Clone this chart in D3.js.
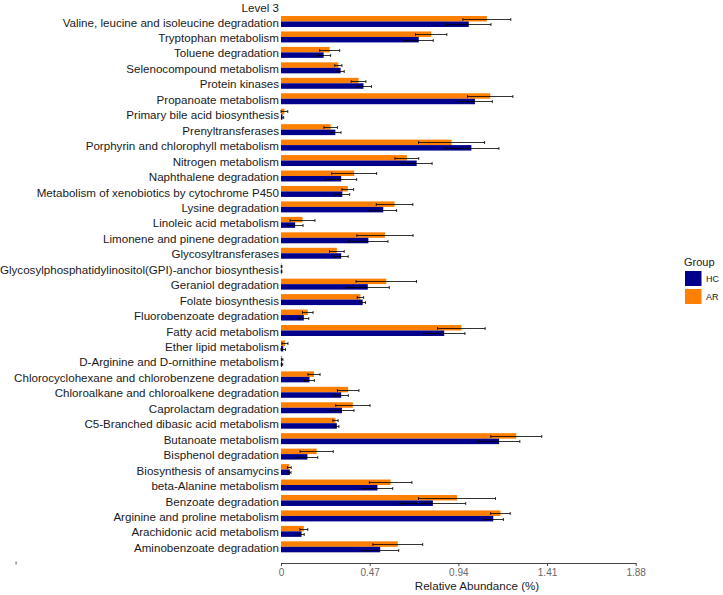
<!DOCTYPE html>
<html><head><meta charset="utf-8">
<script src="https://cdn.jsdelivr.net/npm/d3@7"></script>
<style>html,body{margin:0;padding:0;background:#fff;}svg{display:block;font-family:"Liberation Sans",Arial,sans-serif;}</style>
</head><body><svg id="c" width="723" height="595"></svg>
<script>
const categories = ["Valine, leucine and isoleucine degradation","Tryptophan metabolism","Toluene degradation","Selenocompound metabolism","Protein kinases","Propanoate metabolism","Primary bile acid biosynthesis","Prenyltransferases","Porphyrin and chlorophyll metabolism","Nitrogen metabolism","Naphthalene degradation","Metabolism of xenobiotics by cytochrome P450","Lysine degradation","Linoleic acid metabolism","Limonene and pinene degradation","Glycosyltransferases","Glycosylphosphatidylinositol(GPI)-anchor biosynthesis","Geraniol degradation","Folate biosynthesis","Fluorobenzoate degradation","Fatty acid metabolism","Ether lipid metabolism","D-Arginine and D-ornithine metabolism","Chlorocyclohexane and chlorobenzene degradation","Chloroalkane and chloroalkene degradation","Caprolactam degradation","C5-Branched dibasic acid metabolism","Butanoate metabolism","Bisphenol degradation","Biosynthesis of ansamycins","beta-Alanine metabolism","Benzoate degradation","Arginine and proline metabolism","Arachidonic acid metabolism","Aminobenzoate degradation"];
const groups = ["AR","HC"];
const legendGroups = ["HC","AR"];
const arMean = [1.091,0.796,0.258,0.304,0.411,1.109,0.018,0.263,0.904,0.667,0.388,0.354,0.602,0.114,0.551,0.296,0.003,0.558,0.421,0.142,0.956,0.021,0.006,0.175,0.356,0.381,0.289,1.247,0.189,0.044,0.581,0.933,1.163,0.121,0.619];
const arSd   = [0.127,0.083,0.053,0.019,0.039,0.120,0.018,0.036,0.175,0.063,0.119,0.031,0.097,0.066,0.149,0.039,0.002,0.160,0.017,0.028,0.126,0.016,0.004,0.032,0.057,0.091,0.014,0.135,0.088,0.010,0.113,0.204,0.052,0.021,0.132];
const hcMean = [0.995,0.730,0.226,0.316,0.437,1.028,0.008,0.288,1.009,0.719,0.319,0.325,0.542,0.075,0.463,0.319,0.003,0.460,0.433,0.121,0.865,0.012,0.005,0.151,0.319,0.323,0.296,1.156,0.140,0.047,0.511,0.805,1.125,0.109,0.526];
const hcSd   = [0.118,0.077,0.037,0.019,0.043,0.092,0.006,0.030,0.146,0.082,0.082,0.039,0.071,0.042,0.104,0.037,0.002,0.114,0.015,0.026,0.110,0.012,0.004,0.026,0.038,0.064,0.011,0.110,0.055,0.006,0.081,0.174,0.054,0.014,0.098];
const xTicks = [0,0.47,0.94,1.41,1.88];
const colors = {HC:"#00008B", AR:"#FF8000"};

const rows = [];
categories.forEach((c,i)=>{
  rows.push({cat:c, g:"AR", m:arMean[i], sd:arSd[i]});
  rows.push({cat:c, g:"HC", m:hcMean[i], sd:hcSd[i]});
});

const svg = d3.select("#c");
const x = d3.scaleLinear().domain([0,1.88]).range([281,635.7]);
const y = d3.scaleBand().domain(categories).range([16,552.3]).paddingInner(0.29).paddingOuter(0);
const yg = d3.scaleBand().domain(groups).range([0,y.bandwidth()]);

// bars
svg.append("g").selectAll("rect").data(rows).join("rect")
  .attr("x", x(0))
  .attr("y", d=>y(d.cat)+yg(d.g))
  .attr("width", d=>Math.max(0, x(d.m)-x(0)))
  .attr("height", yg.bandwidth())
  .attr("fill", d=>colors[d.g]);

// error bars
const eb = svg.append("g").attr("stroke","#000").attr("stroke-width",1).attr("stroke-opacity",0.8);
rows.forEach(d=>{
  const cy = Math.round(y(d.cat)+yg(d.g)+yg.bandwidth()/2)+0.5;
  const x1 = x(Math.max(0,d.m-d.sd)), x2 = x(d.m+d.sd);
  eb.append("line").attr("x1",x1).attr("x2",x2).attr("y1",cy).attr("y2",cy);
  eb.append("line").attr("x1",x1).attr("x2",x1).attr("y1",cy-1.5).attr("y2",cy+1.5);
  eb.append("line").attr("x1",x2).attr("x2",x2).attr("y1",cy-1.5).attr("y2",cy+1.5);
});

// category labels
svg.append("g").selectAll("text").data(categories).join("text")
  .attr("x",279).attr("y",d=>y(d)+y.bandwidth()/2+1).attr("dy","0.35em")
  .attr("text-anchor","end").attr("font-size","11.6px").attr("fill","#1a1a1a").text(d=>d);

svg.append("text").attr("x",279).attr("y",11.5).attr("text-anchor","end")
  .attr("font-size","11.6px").attr("fill","#1a1a1a").text("Level 3");

// x axis
const ax = svg.append("g").attr("transform","translate(0,563)")
  .call(d3.axisBottom(x).tickValues(xTicks).tickFormat(d=>d===0?"0":d3.format(".2f")(d)).tickSize(3).tickSizeOuter(0));
ax.select(".domain").attr("stroke","#444");
ax.selectAll(".tick line").attr("stroke","#444");
ax.selectAll(".tick text").attr("fill","#666").attr("font-size","10px").attr("font-family","Liberation Sans, Arial, sans-serif").attr("dy","0.71em");

svg.append("text").attr("x",477).attr("y",590).attr("text-anchor","middle")
  .attr("font-size","11.6px").attr("fill","#1a1a1a").text("Relative Abundance (%)");

// stray mark
svg.append("rect").attr("x",15.5).attr("y",561.5).attr("width",1.2).attr("height",3).attr("fill","#777");

// legend
const lg = svg.append("g");
lg.append("text").attr("x",684).attr("y",266).attr("font-size","11px").attr("fill","#1a1a1a").text("Group");
legendGroups.forEach((g,i)=>{
  lg.append("rect").attr("x",685).attr("y",271+i*18).attr("width",16.5).attr("height",15).attr("fill",colors[g]);
  lg.append("text").attr("x",706).attr("y",278.5+i*18).attr("dy","0.35em").attr("font-size","9px").attr("fill","#1a1a1a").text(g);
});
</script></body></html>
